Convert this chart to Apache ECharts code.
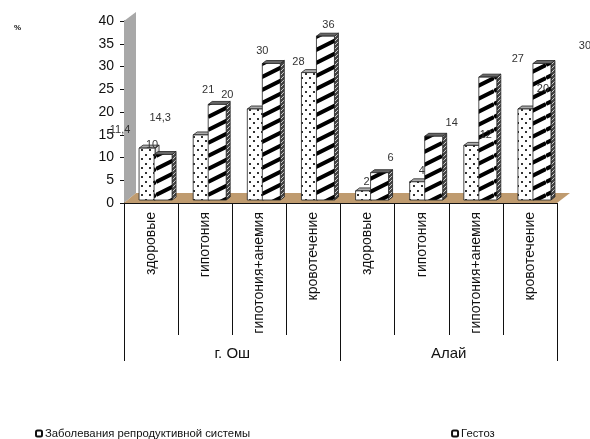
<!DOCTYPE html>
<html>
<head>
<meta charset="utf-8">
<style>html,body{margin:0;padding:0;background:#fff}#chart{width:590px;height:439px}</style>
<script src="https://cdn.jsdelivr.net/npm/echarts@6/dist/echarts.min.js"></script>
</head>
<body>
<div id="chart"></div>
<script>
// Category labels
const groups = ['г. Ош', 'Алай'];
const categories = ['здоровые', 'гипотония', 'гипотония+анемия', 'кровотечение',
                    'здоровые', 'гипотония', 'гипотония+анемия', 'кровотечение'];
const seriesNames = ['Заболевания репродуктивной системы', 'Гестоз'];

// Percent values per category
const reproductive = [11.4, 14.3, 20, 28, 2, 4, 12, 20];
const gestosis = [10, 21, 30, 36, 6, 14, 27, 30];

// Data label nudges relative to each bar's top centre, in pixels
const reproductiveLabelShift = [[-27, -18], [-41, -17], [-28, -14], [-11, -11], [3, -9], [4, -11], [14, -10], [17, -20]];
const gestosisLabelShift = [[-11, -10], [-9, -14], [-9, -13], [3, -11], [11, -15], [18, -13], [30, -18], [43, -18]];

// Repeating fills for bar faces
function tile(w, h, draw) {
  const c = document.createElement('canvas');
  c.width = w; c.height = h;
  const g = c.getContext('2d');
  g.fillStyle = '#fff';
  g.fillRect(0, 0, w, h);
  draw(g);
  return { image: c, repeat: 'repeat' };
}
const dotted = tile(8, 9, g => {
  g.fillStyle = '#333';
  g.fillRect(1, 1, 2, 2);
  g.fillRect(5, 5, 2, 2);
});
const striped = tile(26, 13, g => {
  g.strokeStyle = '#000';
  g.lineWidth = 4;
  for (let i = -2; i <= 2; i++) {
    g.beginPath();
    g.moveTo(0, 13 * i + 13);
    g.lineTo(26, 13 * i);
    g.stroke();
  }
});
const sideHatch = tile(4, 4, g => {
  g.fillStyle = '#444';
  g.fillRect(0, 0, 4, 4);
  g.strokeStyle = '#ccc';
  g.lineWidth = 1;
  g.beginPath(); g.moveTo(0, 4); g.lineTo(4, 0); g.stroke();
});

const DEPTH_X = 4, DEPTH_Y = 3, LIFT = 3;

// Horizontal extent of a bar's front face around its category centre
function barGeometry(api, startOffset, width) {
  const idx = api.value(0), val = api.value(1);
  const cx = api.coord([idx, 0])[0];
  const x0 = cx + startOffset;
  return {
    idx, val, x0, x1: x0 + width,
    base: api.coord([idx, 0])[1] - LIFT,
    top: api.coord([idx, val])[1] - LIFT
  };
}

// A bar drawn as front, top and side faces
function barRenderer(startOffset, width, frontFill, sideFill, topFill) {
  return (params, api) => {
    const { x0, x1, base, top } = barGeometry(api, startOffset, width);
    const edge = { stroke: '#222', lineWidth: 0.8 };
    return {
      type: 'group',
      children: [
        { type: 'polygon', shape: { points: [[x1, base], [x1 + DEPTH_X, base - DEPTH_Y], [x1 + DEPTH_X, top - DEPTH_Y], [x1, top]] },
          style: Object.assign({ fill: sideFill }, edge) },
        { type: 'polygon', shape: { points: [[x0, top], [x0 + DEPTH_X, top - DEPTH_Y], [x1 + DEPTH_X, top - DEPTH_Y], [x1, top]] },
          style: Object.assign({ fill: topFill }, edge) },
        { type: 'rect', shape: { x: x0, y: top, width: width, height: base - top },
          style: Object.assign({ fill: frontFill }, edge) }
      ]
    };
  };
}

// Value label placed relative to the top of its bar
function labelRenderer(startOffset, width, shifts) {
  return (params, api) => {
    const { idx, val, x0, x1, top } = barGeometry(api, startOffset, width);
    const s = shifts[idx];
    return { type: 'text', style: { x: (x0 + x1) / 2 + s[0], y: top + s[1],
      text: String(val).replace('.', ','), fill: '#333', fontSize: 11,
      fontFamily: font, align: 'center', verticalAlign: 'middle' } };
  };
}

// Back wall and floor of the plot box
function boxRenderer(params, api) {
  const c = params.coordSys;
  const dx = 12, dy = 10, L = c.x, R = c.x + c.width, T = c.y, B = c.y + c.height;
  return {
    type: 'group',
    children: [
      { type: 'polygon', shape: { points: [[L, B], [L + dx, B - dy], [L + dx, T - dy + 1], [L, T]] }, style: { fill: '#A8A8A8' } },
      { type: 'polygon', shape: { points: [[L, B], [L + dx, B - dy], [R + dx + 1, B - dy], [R, B]] }, style: { fill: '#BF9B6F' } }
    ]
  };
}

const font = 'Liberation Sans';
const DOT_START = -12, DOT_WIDTH = 16, STRIPE_START = 3, STRIPE_WIDTH = 18;
const chart = echarts.init(document.getElementById('chart'), null, { renderer: 'canvas' });
const reproductiveData = reproductive.map((v, i) => [i, v]);
const gestosisData = gestosis.map((v, i) => [i, v]);
chart.setOption({
  animation: false,
  backgroundColor: '#fff',
  title: { text: '%', left: 9, top: 19, textStyle: { fontSize: 8, fontWeight: 'bold', color: '#111', fontFamily: font } },
  legend: {
    left: 30, top: 423, itemWidth: 6, itemHeight: 6, itemGap: 201,
    data: seriesNames,
    textStyle: { fontSize: 11.3, color: '#111', fontFamily: font, padding: [0, 0, 0, -2] }
  },
  grid: { left: 124, right: 33, top: 21, height: 182 },
  xAxis: [
    { type: 'category', data: categories, position: 'bottom',
      axisLine: { lineStyle: { color: '#111', width: 1 } },
      axisTick: { show: true, length: 132, lineStyle: { color: '#111', width: 1 } },
      axisLabel: { interval: 0, rotate: 90, margin: 9, fontSize: 14, color: '#111', fontFamily: font } },
    { type: 'category', data: groups, position: 'bottom',
      axisLine: { show: false },
      axisTick: { show: true, length: 158, lineStyle: { color: '#111', width: 1 } },
      axisLabel: { interval: 0, margin: 143, fontSize: 15, color: '#111', fontFamily: font } }
  ],
  yAxis: {
    type: 'value', min: 0, max: 40, interval: 5,
    axisLine: { show: true, lineStyle: { color: '#111', width: 1 } },
    axisTick: { show: true, length: 4, lineStyle: { color: '#111' } },
    splitLine: { show: false },
    axisLabel: { margin: 10, fontSize: 14, color: '#111', fontFamily: font }
  },
  series: [
    { type: 'custom', name: 'box', silent: true, z: 1, data: [[0, 0]], renderItem: boxRenderer, encode: { x: 0, y: 1 } },
    { type: 'custom', name: seriesNames[0], z: 2, itemStyle: { color: '#fff', borderColor: '#111', borderWidth: 1 },
      data: reproductiveData, encode: { x: 0, y: 1 },
      renderItem: barRenderer(DOT_START, DOT_WIDTH, dotted, '#ddd', '#aaa') },
    { type: 'custom', name: seriesNames[1], z: 3, itemStyle: { color: '#fff', borderColor: '#111', borderWidth: 1 },
      data: gestosisData, encode: { x: 0, y: 1 },
      renderItem: barRenderer(STRIPE_START, STRIPE_WIDTH, striped, sideHatch, '#666') },
    { type: 'custom', name: 'reproductive labels', silent: true, z: 4, data: reproductiveData, encode: { x: 0, y: 1 },
      renderItem: labelRenderer(DOT_START, DOT_WIDTH, reproductiveLabelShift) },
    { type: 'custom', name: 'gestosis labels', silent: true, z: 4, data: gestosisData, encode: { x: 0, y: 1 },
      renderItem: labelRenderer(STRIPE_START, STRIPE_WIDTH, gestosisLabelShift) }
  ]
});
</script>
</body>
</html>
